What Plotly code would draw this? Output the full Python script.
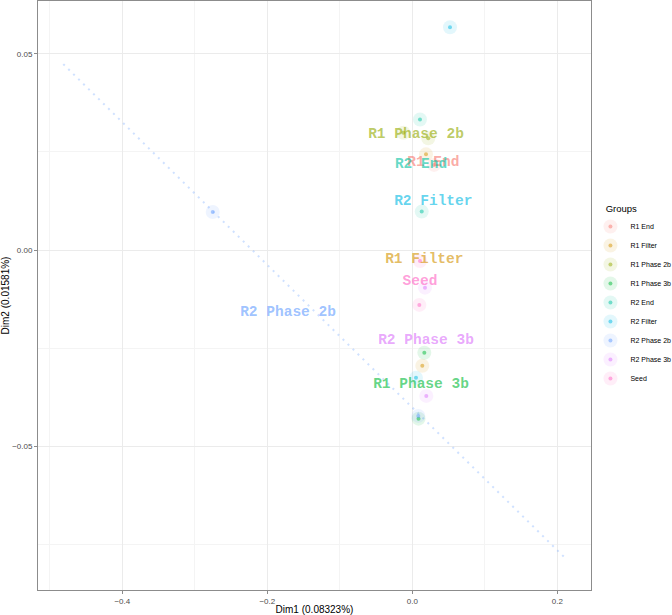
import plotly.graph_objects as go

groups = ["R1 End", "R1 Filter", "R1 Phase 2b", "R1 Phase 3b", "R2 End",
          "R2 Filter", "R2 Phase 2b", "R2 Phase 3b", "Seed"]
colors = ["#F8766D", "#D39200", "#93AA00", "#00BA38", "#00C19F",
          "#00B9E3", "#619CFF", "#DB72FB", "#FF61C3"]

# sample coordinates per group (Dim1, Dim2)
dim1 = {
    "R1 End": [0.030],
    "R1 Filter": [0.0189, 0.0138],
    "R1 Phase 2b": [-0.0123, 0.022],
    "R1 Phase 3b": [0.0166, 0.0086],
    "R2 End": [0.0106, 0.013],
    "R2 Filter": [0.052, 0.0051],
    "R2 Phase 2b": [-0.2753, 0.0083],
    "R2 Phase 3b": [0.0175, 0.0193],
    "Seed": [0.0106, 0.0097],
}
dim2 = {
    "R1 End": [0.0217],
    "R1 Filter": [0.0244, -0.0295],
    "R1 Phase 2b": [0.0299, 0.0285],
    "R1 Phase 3b": [-0.0262, -0.0430],
    "R2 End": [0.0333, 0.0098],
    "R2 Filter": [0.0568, -0.0326],
    "R2 Phase 2b": [0.0097, -0.0423],
    "R2 Phase 3b": [-0.0096, -0.0372],
    "Seed": [-0.0028, -0.0140],
}
# group label positions
label_x = [0.029, 0.0166, 0.0051, 0.012, 0.012, 0.029, -0.1714, 0.0189, 0.0106]
label_y = [0.0224, -0.0023, 0.0296, -0.0343, 0.0219, 0.0125, -0.0158, -0.023, -0.0081]

# dotted diagonal reference line
line_x = [-0.4814, 0.2134]
line_y = [0.0474, -0.0790]


def rgba(hexc, a):
    h = hexc.lstrip("#")
    r, g, b = int(h[0:2], 16), int(h[2:4], 16), int(h[4:6], 16)
    return f"rgba({r},{g},{b},{a})"


fig = go.Figure()

fig.add_trace(go.Scatter(
    x=line_x, y=line_y, mode="lines",
    line=dict(color=rgba("#619CFF", 0.3), width=2, dash="2px,5px"),
    showlegend=False, hoverinfo="skip"))

for g, c in zip(groups, colors):
    fig.add_trace(go.Scatter(
        x=dim1[g], y=dim2[g], mode="markers", name=g, legend="legend",
        marker=dict(size=14, color=rgba(c, 0.11), line=dict(width=0))))

for g, c in zip(groups, colors):
    fig.add_trace(go.Scatter(
        x=dim1[g], y=dim2[g], mode="markers", name=g, legend="legend2",
        marker=dict(size=4, color=rgba(c, 0.5), line=dict(width=0))))

for g, c, lx, ly in zip(groups, colors, label_x, label_y):
    fig.add_trace(go.Scatter(
        x=[lx], y=[ly], mode="text", text=[g], textposition="middle center",
        textfont=dict(family="Liberation Mono, Courier New, monospace",
                      size=14.5, color=rgba(c, 0.62), weight="bold"),
        showlegend=False, hoverinfo="skip"))

axis_common = dict(
    showline=True, mirror=True, linecolor="#8c8c8c", linewidth=1,
    showgrid=True, gridcolor="#ebebeb", gridwidth=1,
    zeroline=False, ticks="outside", ticklen=3, tickcolor="#8c8c8c",
    tickfont=dict(family="Liberation Sans, Arial", size=8, color="#4d4d4d"),
    automargin=False,
)

fig.update_xaxes(
    range=[-0.5163, 0.2465], tickvals=[-0.4, -0.2, 0.0, 0.2], tickformat=".1f",
    minor=dict(dtick=0.1, tick0=0, showgrid=True, gridcolor="#f4f4f4", gridwidth=1),
    title=dict(text="Dim1 (0.08323%)",
               font=dict(family="Liberation Sans, Arial", size=10, color="#000000")),
    **axis_common)
fig.update_yaxes(
    range=[-0.0867, 0.0635], tickvals=[-0.05, 0.0, 0.05], tickformat=".2f",
    minor=dict(dtick=0.025, tick0=0, showgrid=True, gridcolor="#f4f4f4", gridwidth=1),
    title=dict(text="Dim2 (0.01581%)",
               font=dict(family="Liberation Sans, Arial", size=10, color="#000000")),
    **axis_common)

legend_common = dict(
    x=0.999, xanchor="left", y=0.498, yanchor="middle",
    bgcolor="rgba(0,0,0,0)", borderwidth=0, itemsizing="trace",
    tracegroupgap=0,
)
pad = "\u00a0" * 5
fig.update_layout(
    width=672, height=615,
    margin=dict(l=38, r=81, t=1, b=25, autoexpand=False),
    plot_bgcolor="white", paper_bgcolor="white",
    legend=dict(
        title=dict(text=pad + "Groups", font=dict(family="Liberation Sans, Arial", size=9.5, color="#000000")),
        font=dict(family="Liberation Sans, Arial", size=7, color="#000000"),
        **legend_common),
    legend2=dict(
        title=dict(text=pad + "Groups", font=dict(family="Liberation Sans, Arial", size=9.5, color="rgba(0,0,0,0)")),
        font=dict(family="Liberation Sans, Arial", size=7, color="rgba(0,0,0,0)"),
        **legend_common),
)

fig.write_html("out.html", config={"displayModeBar": False},
               post_script="document.body.style.margin='0';document.body.style.overflow='hidden';")
